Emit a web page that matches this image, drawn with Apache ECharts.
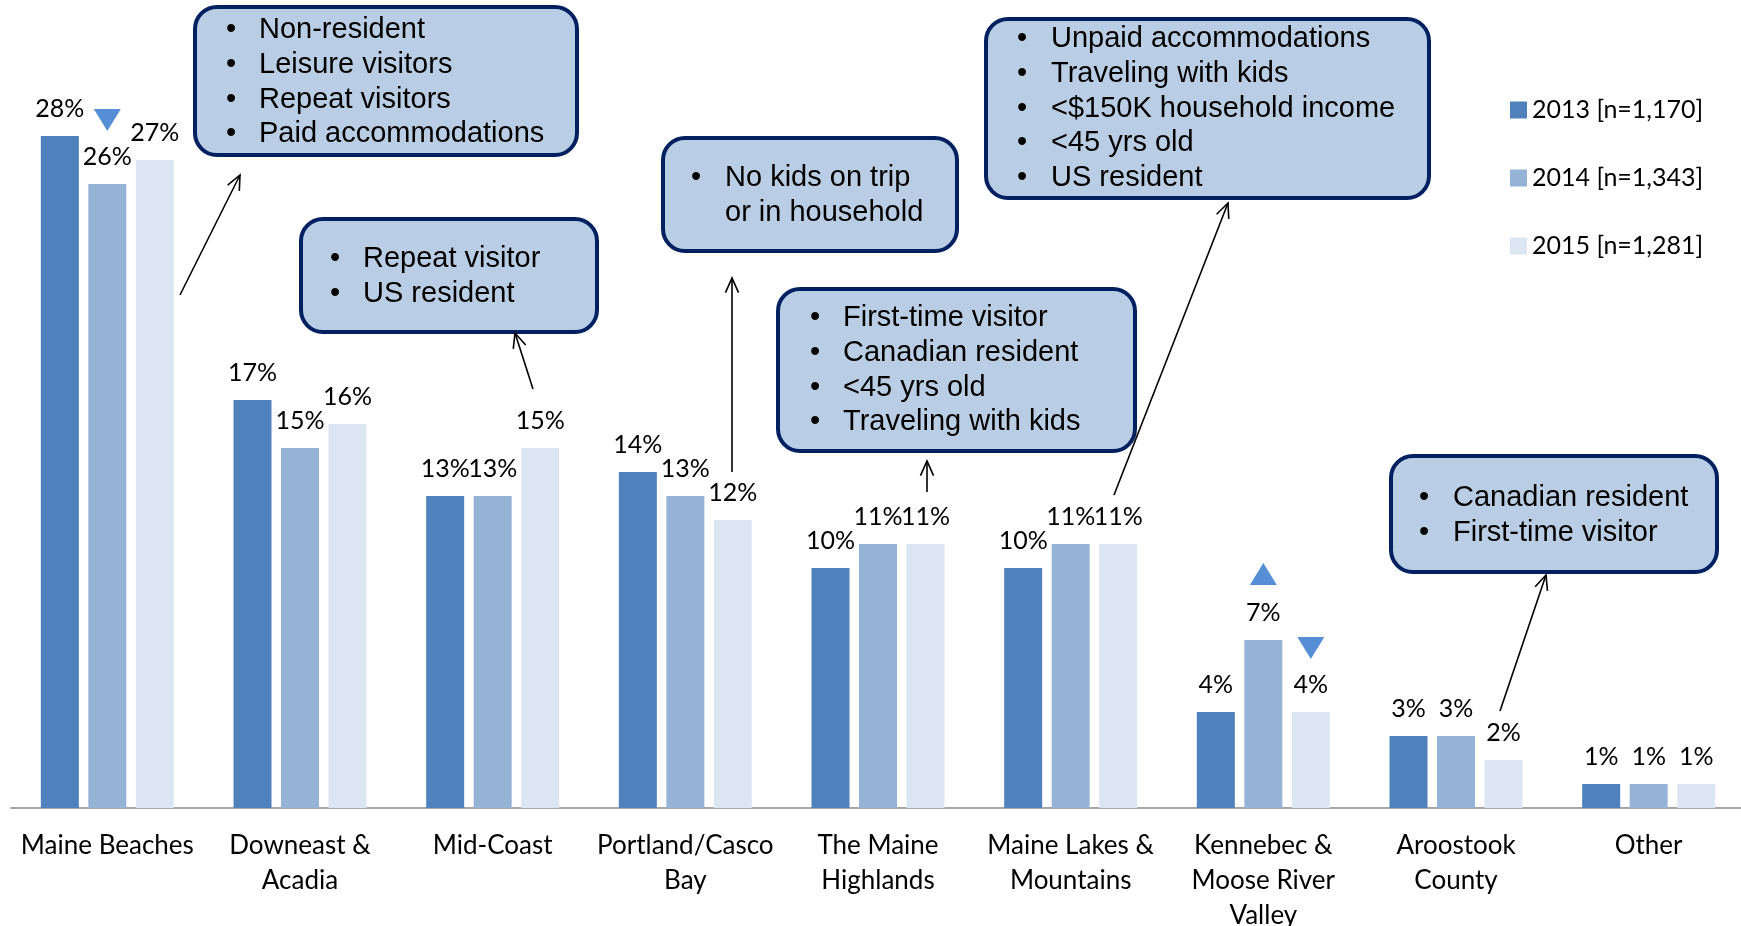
<!DOCTYPE html>
<html>
<head>
<meta charset="utf-8">
<script src="https://cdn.jsdelivr.net/npm/echarts@6/dist/echarts.min.js"></script>
<style>
html, body { margin: 0; padding: 0; background: #fff; }
#main { width: 1741px; height: 926px; }
</style>
</head>
<body>
<div id="main"></div>
<script>
const categories = ["Maine Beaches", "Downeast &\nAcadia", "Mid-Coast", "Portland/Casco\nBay", "The Maine\nHighlands", "Maine Lakes &\nMountains", "Kennebec &\nMoose River\nValley", "Aroostook\nCounty", "Other"];
const seriesNames = ["2013 [n=1,170]", "2014 [n=1,343]", "2015 [n=1,281]"];
const values2013 = [28, 17, 13, 14, 10, 10, 4, 3, 1];
const values2014 = [26, 15, 13, 13, 11, 11, 7, 3, 1];
const values2015 = [27, 16, 15, 12, 11, 11, 4, 2, 1];
// significant changes: [series index, category index, direction]
const trendMarks = [[1, 0, "down"], [1, 6, "up"], [2, 6, "down"]];

const calloutTexts = [
  ["Non-resident", "Leisure visitors", "Repeat visitors", "Paid accommodations"],
  ["Repeat visitor", "US resident"],
  ["No kids on trip", "or in household"],
  ["Unpaid accommodations", "Traveling with kids", "<$150K household income", "<45 yrs old", "US resident"],
  ["First-time visitor", "Canadian resident", "<45 yrs old", "Traveling with kids"],
  ["Canadian resident", "First-time visitor"]
];
// box layout: x, y, w, h, bullet x, text x, first row centre
const calloutBoxes = [
  [195, 7, 382, 148, 226, 259, 30],
  [301, 219, 296, 113, 330, 363, 259],
  [663, 138, 294, 113, 691, 725, 178],
  [986, 19, 443, 179, 1017, 1051, 39],
  [778, 289, 357, 162, 810, 843, 318],
  [1391, 456, 326, 116, 1419, 1453, 498]
];
const arrows = [
  [180, 295, 240, 175],
  [533, 389, 515, 333],
  [732, 472, 732, 278],
  [1114, 495, 1228, 203],
  [927, 492, 927, 461],
  [1500, 711, 1546, 575]
];

const colors = ["#4F81BD", "#95B3D7", "#DCE6F2"];
const seriesValues = [values2013, values2014, values2015];

function arrowHead(x1, y1, x2, y2) {
  const a = Math.atan2(y2 - y1, x2 - x1), len = 16, spread = 0.42;
  return [
    [x2 - len * Math.cos(a - spread), y2 - len * Math.sin(a - spread)],
    [x2, y2],
    [x2 - len * Math.cos(a + spread), y2 - len * Math.sin(a + spread)]
  ];
}

const graphics = [];
calloutBoxes.forEach((b, i) => {
  const lines = calloutTexts[i];
  const bullets = lines.map((l, k) => (i === 2 && k === 1) ? " " : "•").join("\n");
  graphics.push({
    type: "group",
    children: [
      { type: "rect", shape: { x: b[0], y: b[1], width: b[2], height: b[3], r: 22 },
        style: { fill: "#B9CDE5", stroke: "#002060", lineWidth: 4 } },
      { type: "text", x: b[4], y: b[6] - 17.4,
        style: { text: bullets, fontSize: 29, fontFamily: "Liberation Sans", fill: "#000", lineHeight: 34.8, verticalAlign: "top" } },
      { type: "text", x: b[5], y: b[6] - 17.4,
        style: { text: lines.join("\n"), fontSize: 29, fontFamily: "Liberation Sans", fill: "#000", lineHeight: 34.8, verticalAlign: "top" } }
    ]
  });
});
arrows.forEach(a => {
  graphics.push({ type: "line", shape: { x1: a[0], y1: a[1], x2: a[2], y2: a[3] }, style: { stroke: "#000", lineWidth: 1.6 } });
  graphics.push({ type: "polyline", shape: { points: arrowHead(a[0], a[1], a[2], a[3]) }, style: { stroke: "#000", lineWidth: 1.6, fill: null } });
});

const series = seriesNames.map((name, s) => ({
  name: name,
  type: "bar",
  barWidth: 38,
  barGap: "25%",
  itemStyle: { color: colors[s] },
  label: {
    show: true,
    position: "top",
    distance: 15,
    formatter: "{c}%",
    fontSize: 25,
    fontFamily: "Lato",
    color: "#000"
  },
  markPoint: {
    symbol: "triangle",
    label: { show: false },
    itemStyle: { color: "#558ED5" },
    data: trendMarks.filter(m => m[0] === s).map(m => ({
      coord: [m[1], seriesValues[s][m[1]]],
      symbolSize: [27, 22],
      symbolRotate: m[2] === "up" ? 0 : 180,
      symbolOffset: [0, m[2] === "up" ? -66 : -64]
    }))
  },
  data: seriesValues[s]
}));

const option = {
  animation: false,
  legend: {
    data: seriesNames,
    orient: "vertical",
    left: 1505,
    top: 92,
    icon: "rect",
    itemWidth: 17,
    itemHeight: 17,
    itemGap: 42,
    selectedMode: false,
    textStyle: { fontSize: 25, fontFamily: "Lato", color: "#000", lineHeight: 26 }
  },
  grid: { left: 11, right: -4, top: 88, bottom: 118, outerBoundsMode: "none" },
  xAxis: {
    type: "category",
    data: categories,
    axisLine: { lineStyle: { color: "#A6A6A6", width: 2 } },
    axisTick: { show: false },
    axisLabel: { interval: 0, margin: 20, fontSize: 26, fontFamily: "Lato", color: "#000", lineHeight: 35 }
  },
  yAxis: { type: "value", min: 0, max: 30, show: false, splitLine: { show: false } },
  series: series,
  graphic: graphics
};

const chart = echarts.init(document.getElementById("main"));
chart.setOption(option);
</script>
</body>
</html>
